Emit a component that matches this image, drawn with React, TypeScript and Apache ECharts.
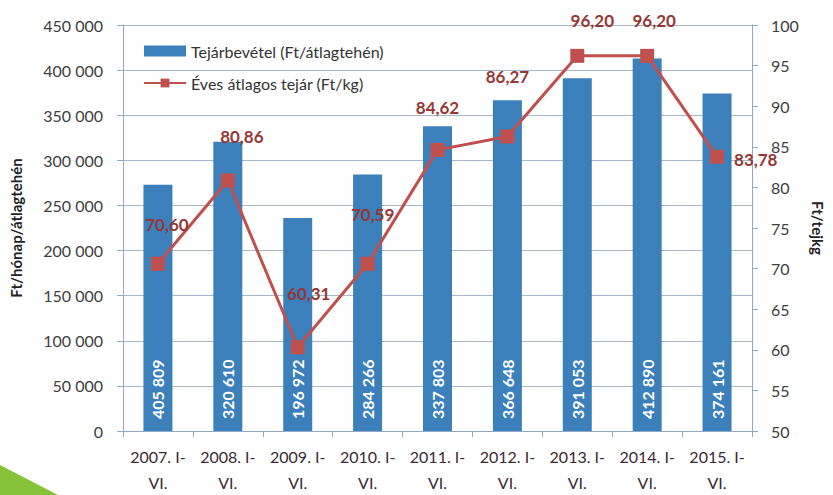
import React, { useEffect, useRef } from "react";
import * as echarts from "echarts";

const categories = ["2007. I-\nVI.", "2008. I-\nVI.", "2009. I-\nVI.", "2010. I-\nVI.", "2011. I-\nVI.", "2012. I-\nVI.", "2013. I-\nVI.", "2014. I-\nVI.", "2015. I-\nVI."];
const barValues = [273000, 320610, 236000, 284266, 337803, 366648, 391053, 412890, 374161];
const barLabels = ["405 809", "320 610", "196 972", "284 266", "337 803", "366 648", "391 053", "412 890", "374 161"];
const priceValues = [70.6, 80.86, 60.31, 70.59, 84.62, 86.27, 96.2, 96.2, 83.78];
const leftTicks = { min: 0, max: 450000, interval: 50000 };
const rightTicks = { min: 50, max: 100, interval: 5 };

const labelOffsets: [number, number][] = [[9, -14], [14, -18], [11, -28], [5, -24], [0, -17], [0, -34], [15, -10], [7, -10], [0, 3]];

const FONT = "Lato, 'Noto Sans', sans-serif";

export default function App() {
  const ref = useRef<HTMLDivElement>(null);
  useEffect(() => {
    if (!ref.current) return;
    const chart = echarts.init(ref.current, null, { renderer: "svg" });
    const fmt = (v: number) => String(v).replace(/\B(?=(\d{3})+(?!\d))/g, " ");
    const axisLineColor = "#8fa8c4";
    chart.setOption({
      animation: false,
      backgroundColor: "#ffffff",
      textStyle: { fontFamily: FONT },
      grid: { left: 118, right: 74, top: 25, bottom: 55, containLabel: false },
      legend: {
        orient: "vertical",
        left: 138,
        top: 38,
        itemGap: 16,
        itemWidth: 42,
        itemHeight: 11,
        textStyle: { fontSize: 16, color: "#333", fontFamily: FONT },
        data: [
          { name: "Tejárbevétel (Ft/átlagtehén)", icon: "rect" },
          { name: "Éves átlagos tejár (Ft/kg)" },
        ],
      },
      xAxis: {
        type: "category",
        data: categories,
        axisLine: { lineStyle: { color: axisLineColor } },
        axisTick: { show: true, length: 6, lineStyle: { color: axisLineColor } },
        axisLabel: { fontSize: 16, color: "#3a2a33", lineHeight: 26, margin: 12, interval: 0 },
      },
      yAxis: [
        {
          type: "value",
          ...leftTicks,
          name: "Ft/hónap/átlagtehén",
          nameLocation: "middle",
          nameGap: 100,
          nameTextStyle: { fontSize: 15, fontWeight: "bold", color: "#222" },
          axisLine: { show: true, lineStyle: { color: axisLineColor } },
          axisTick: { show: true, length: 6, lineStyle: { color: axisLineColor } },
          axisLabel: { fontSize: 16, color: "#404040", margin: 20, formatter: (v: number) => fmt(v) },
          splitLine: { lineStyle: { color: "#a6b8cc", width: 1 } },
        },
        {
          type: "value",
          ...rightTicks,
          position: "right",
          name: "Ft/tejkg",
          nameLocation: "middle",
          nameGap: 58,
          nameRotate: -90,
          nameTextStyle: { fontSize: 15, fontWeight: "bold", color: "#222" },
          axisLine: { show: true, lineStyle: { color: axisLineColor } },
          axisTick: { show: true, length: 6, lineStyle: { color: axisLineColor } },
          axisLabel: { fontSize: 16, color: "#404040", margin: 19 },
          splitLine: { show: false },
        },
      ],
      series: [
        {
          name: "Tejárbevétel (Ft/átlagtehén)",
          type: "bar",
          yAxisIndex: 0,
          barWidth: 29,
          itemStyle: { color: "#3b80bb" },
          data: barValues,
          label: {
            show: true,
            position: "insideBottom",
            rotate: 90,
            align: "left",
            verticalAlign: "middle",
            distance: 12,
            color: "#ffffff",
            fontSize: 16,
            fontWeight: "bold",
            formatter: (p: any) => barLabels[p.dataIndex],
          },
        },
        {
          name: "Éves átlagos tejár (Ft/kg)",
          type: "line",
          yAxisIndex: 1,
          symbol: "rect",
          symbolSize: 14,
          lineStyle: { color: "#c0504d", width: 3 },
          itemStyle: { color: "#c0504d" },
          data: priceValues.map((v, i) => ({
            value: v,
            label: {
              show: true,
              position: i === priceValues.length - 1 ? "right" : "top",
              distance: 10,
              offset: labelOffsets[i],
            },
          })),
          label: {
            show: true,
            color: "#953735",
            fontSize: 17,
            fontWeight: "bold",
            formatter: (p: any) => p.value.toFixed(2).replace(".", ","),
          },
        },
      ],
      graphic: [
        {
          type: "polygon",
          shape: { points: [[0, 465], [58, 495], [0, 495]] },
          style: { fill: "#86c23a" },
          silent: true,
        },
      ],
    });
    return () => chart.dispose();
  }, []);
  return <div ref={ref} style={{ width: 833, height: 495, position: "absolute", left: 0, top: 0 }} />;
}
